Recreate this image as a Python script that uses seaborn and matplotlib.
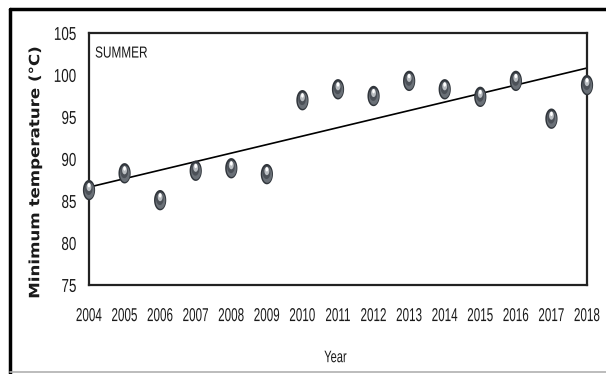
import numpy as np
import pandas as pd
import matplotlib
matplotlib.use("Agg")
import matplotlib.pyplot as plt
import matplotlib.transforms as mtransforms
from matplotlib.lines import Line2D
from matplotlib.path import Path
from matplotlib.patheffects import AbstractPathEffect
import seaborn as sns

years = [2004, 2005, 2006, 2007, 2008, 2009, 2010, 2011, 2012, 2013, 2014, 2015, 2016, 2017, 2018]
min_temp = [86.3, 88.3, 85.1, 88.6, 88.9, 88.2, 97.0, 98.3, 97.5, 99.3, 98.3, 97.4, 99.3, 94.8, 98.8]
y_ticks = [75, 80, 85, 90, 95, 100, 105]
season = "SUMMER"

df = pd.DataFrame({"Year": years, "Tmin": min_temp})

sns.set_theme(style="white")
plt.rcParams["font.family"] = ["Liberation Sans", "DejaVu Sans"]


class Reshape(AbstractPathEffect):
    """Draw text condensed horizontally and stretched vertically about an anchor."""

    def __init__(self, sx, sy=1.0, xanchor="center", yanchor="center"):
        super().__init__()
        self.sx, self.sy = sx, sy
        self.xanchor, self.yanchor = xanchor, yanchor

    def draw_path(self, renderer, gc, tpath, affine, rgbFace=None):
        ext = tpath.transformed(affine).get_extents()
        cx = {"left": ext.x0, "right": ext.x1}.get(self.xanchor, (ext.x0 + ext.x1) / 2)
        cy = {"bottom": ext.y0, "top": ext.y1}.get(self.yanchor, (ext.y0 + ext.y1) / 2)
        aff = affine + (mtransforms.Affine2D().translate(-cx, -cy)
                        .scale(self.sx, self.sy).translate(cx, cy))
        renderer.draw_path(gc, tpath, aff, rgbFace)


fig = plt.figure(figsize=(6.06, 3.74), dpi=100)
ax = fig.add_axes([89 / 606, 1 - 285 / 374, (587 - 89) / 606, (285 - 33) / 374])

# elliptical "bead" marker
t = np.linspace(0, 2 * np.pi, 60)
ell = Path(np.column_stack([0.6 * np.cos(t), np.sin(t)]), closed=True)

# least-squares trend line
sns.regplot(data=df, x="Year", y="Tmin", scatter=False, ci=None, truncate=True,
            line_kws=dict(color="black", lw=1.2, zorder=2), ax=ax)


def shifted(dx, dy):
    return mtransforms.offset_copy(ax.transData, fig=fig, x=dx, y=dy, units="dots")


# shaded layers give the beads a rounded look
layers = [
    (0, 0, 215, "#30353b"),
    (0.3, -0.5, 140, "#6a7077"),
    (-0.3, 1.5, 85, "#4b5057"),
    (0, 3.0, 34, "#b9bdc1"),
    (0, 4.8, 10, "#ffffff"),
]
for dx, dy, s, c in layers:
    sns.scatterplot(data=df, x="Year", y="Tmin", marker=ell, s=s, color=c,
                    edgecolor="none", linewidth=0, ax=ax, zorder=3,
                    transform=shifted(dx, dy), clip_on=False)

ax.set_xlim(years[0], years[-1])
ax.set_ylim(y_ticks[0], y_ticks[-1])
ax.set_xticks(years)
ax.set_xticklabels([str(y) for y in years])
ax.set_yticks(y_ticks)

for side in ["left", "bottom", "right", "top"]:
    ax.spines[side].set_visible(True)
    ax.spines[side].set_color("#222222")
    ax.spines[side].set_linewidth(1.6)

ax.tick_params(axis="both", which="both", direction="out", length=8, width=1.6,
               color="#222222", labelsize=10.5, labelcolor="#1a1a1a")
ax.tick_params(axis="y", length=7, pad=2)
ax.tick_params(axis="x", pad=8)
ax.grid(False)

for lab in ax.get_xticklabels():
    lab.set_path_effects([Reshape(0.8, 1.28, "center", "top")])
for lab in ax.get_yticklabels():
    lab.set_path_effects([Reshape(0.92, 1.28, "right", "center")])

ax.set_xlabel("Year", fontsize=10, color="#1a1a1a", va="top")
ax.xaxis.set_label_coords(0.495, -0.255)
ax.xaxis.label.set_path_effects([Reshape(0.8, 1.2, "center", "top")])

ax.set_ylabel("Minimum temperature (°C)", fontsize=12, fontweight="bold",
              color="#1a1a1a", family=["DejaVu Sans"])
ax.yaxis.set_label_coords(-0.093, 0.445)
ax.yaxis.label.set_path_effects([Reshape(0.85, 1.0, "right", "center")])

ax.text(0.012, 0.952, season, transform=ax.transAxes, fontsize=10,
        color="#1a1a1a", ha="left", va="top",
        path_effects=[Reshape(0.85, 1.15, "left", "top")])

# figure border
W, H = 606, 374
fig.add_artist(Line2D([10 / W, 10 / W], [0, 1 - 9 / H], transform=fig.transFigure,
                      color="black", lw=2.5))
fig.add_artist(Line2D([10 / W, 1], [1 - 9 / H, 1 - 9 / H], transform=fig.transFigure,
                      color="black", lw=2.5))
fig.add_artist(Line2D([10 / W, 1], [1 - 372 / H, 1 - 372 / H], transform=fig.transFigure,
                      color="#b0b0b0", lw=1.2))

fig.savefig("out.png", dpi=100)
